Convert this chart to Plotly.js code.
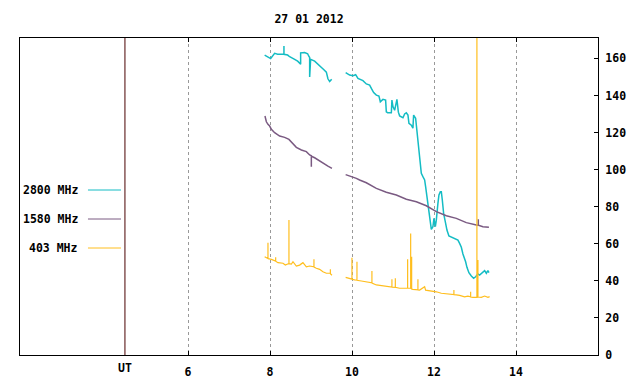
<!DOCTYPE html>
<html>
<head>
<meta charset="utf-8">
<script src="https://cdn.plot.ly/plotly-3.0.1.min.js"></script>
<style>
  html, body { margin: 0; padding: 0; background: #fff; }
  #chart { width: 640px; height: 384px; }
</style>
</head>
<body>
<div id="chart"></div>
<script>
// ---- Data (UT hours, flux values) ----
const titleText = "27 01 2012";
const seriesNames = ["2800 MHz", "1580 MHz", "403 MHz"];
const xTickVals = [6, 8, 10, 12, 14];
const xTickText = ["6", "8", "10", "12", "14"];
const utPosition = 4.46;
const utLabel = "UT";

const t2800 = [7.868,7.949,8.015,8.112,8.185,8.339,8.339,8.339,8.429,8.478,8.600,8.673,8.746,8.746,8.844,8.917,8.942,8.966,8.966,8.990,9.088,9.168,9.251,9.307,9.373,9.412,9.454,9.503,
  null,
  9.844,9.942,10.022,10.088,10.144,10.266,10.349,10.429,10.471,10.527,10.593,10.656,10.690,10.754,10.819,10.836,10.868,10.959,10.973,10.998,11.039,11.095,11.130,11.161,11.242,11.283,11.324,11.364,11.388,11.446,11.485,11.502,11.551,11.583,11.607,11.632,11.666,11.690,11.729,11.771,11.795,11.827,11.851,11.876,11.910,11.934,11.973,11.998,12.032,12.056,12.095,12.120,12.154,12.178,12.202,12.234,12.283,12.315,12.363,12.422,12.502,12.583,12.624,12.666,12.705,12.746,12.771,12.803,12.851,12.910,12.966,13.015,13.071,13.112,13.178,13.234,13.276,13.315,13.339];
const v2800 = [161.8,160.5,159.9,162.7,162.3,162.4,166.7,162.2,161.8,160.9,159.5,158.5,156.9,163,163.2,162.5,161.3,160.5,150,159.5,158.5,157,155.5,154,152.6,149,147.5,148.8,
  null,
  152.3,151,150.7,151.2,149.2,148,146.2,145.6,143.8,141.6,140.2,139.7,136.6,137.9,137.5,131.2,130.7,130.7,137.5,134,132,137.9,131,129,128,130,130.7,129.4,125,124,122.3,129.4,127.7,121.4,117.7,110.6,105.2,98,96.2,94.4,90.8,85.4,80,74.6,69.2,67.8,69.2,73.7,69.2,72.8,81.8,86.3,88.1,88.1,83.6,76.4,71,67.4,64.2,63.5,62.9,62,60.2,58.1,54.5,52.2,50.3,47.3,44.4,42.6,41.4,42.2,43.7,43.1,44.4,45.5,44.1,45.5,44.4];

const t1580 = [7.876,7.910,7.949,7.990,8.032,8.112,8.234,8.356,8.461,8.559,8.641,8.764,8.885,8.966,9.007,9.007,9.007,9.088,9.168,9.290,9.412,9.510,
  null,
  9.844,10.022,10.105,10.185,10.349,10.593,10.836,11.080,11.324,11.568,11.812,12.056,12.300,12.544,12.788,13.032,13.080,13.080,13.080,13.193,13.339];
const v1580 = [128.9,125.8,124.4,123.5,121.7,119.9,118.1,117.4,116.3,113.8,112,110.6,109.7,107.9,107.5,101.6,107.2,106.4,105.2,103.4,101.9,100.7,
  null,
  97.3,96.2,95.3,94.4,92.9,89.9,87.8,86.3,84,82.7,80.5,77.3,75.1,73.7,71.4,70.1,70,73.2,70,69.2,68.9];

const t403 = [7.868,7.949,7.949,7.949,8.032,8.112,8.137,8.137,8.137,8.193,8.315,8.373,8.437,8.461,8.461,8.461,8.520,8.559,8.641,8.722,8.802,8.885,8.966,9.046,9.071,9.071,9.071,9.129,9.210,9.290,9.373,9.454,9.471,9.471,9.471,9.510,
  null,
  9.844,9.942,9.998,9.998,9.998,10.064,10.120,10.120,10.120,10.227,10.349,10.429,10.485,10.485,10.485,10.593,10.754,10.917,10.973,10.973,10.973,11.056,11.056,11.056,11.161,11.324,11.356,11.356,11.356,11.430,11.430,11.430,11.454,11.454,11.454,11.485,11.607,11.607,11.607,11.649,11.771,11.795,11.934,12.056,12.178,12.300,12.485,12.485,12.485,12.544,12.624,12.746,12.827,12.893,12.893,12.893,12.949,13.046,13.046,13.046,13.071,13.071,13.154,13.234,13.315,13.356];
const v403 = [53,52,60.6,52,51.6,50.9,50.7,52.7,50.6,49.8,49.5,48.5,49.5,49.4,72.8,49.3,49.1,50.3,48,48.5,49.8,47.6,48,47.6,47.6,51.6,47.4,46.8,46.2,44.9,44.1,44.1,44,46.2,43.8,43,
  null,
  41.9,41,40.9,52.5,40.8,40.5,40.4,50.3,40.3,39.9,39.5,39,38.9,45.3,38.8,37.8,37.2,36.8,36.7,40.8,36.6,36.5,41.4,36.5,36,36,36,51.6,36,36,65.6,36,35.8,53,35.6,35.4,35.2,40.8,35.1,35,36.8,35,34.7,34.1,33.3,32.9,32.6,35,32.5,32.4,32.2,31.4,31.8,31.4,34.1,31.3,31.1,31.1,200,50.9,50.9,31.3,31.1,31.8,31.1,31.5];

const colors = ["#14bcc4", "#7a5a82", "#ffbe1e"];

// ---- Layout helpers ----
const font = { family: "DejaVu Sans Mono", size: 11.5, weight: "bold", color: "#000" };
const legendY = [0.5205, 0.429, 0.3375];

const traces = [
  { x: t2800, y: v2800, name: seriesNames[0], type: "scatter", mode: "lines", line: { color: colors[0], width: 1.5 } },
  { x: t1580, y: v1580, name: seriesNames[1], type: "scatter", mode: "lines", line: { color: colors[1], width: 1.5 } },
  { x: t403, y: v403, name: seriesNames[2], type: "scatter", mode: "lines", line: { color: colors[2], width: 1.2 } }
];

const annotations = [
  { text: utLabel, x: utPosition, xref: "x", y: 0, yref: "paper", yanchor: "top", xanchor: "center", yshift: -4, showarrow: false, font: font }
];
const shapes = [
  { type: "line", xref: "x", yref: "paper", x0: utPosition, x1: utPosition, y0: 0, y1: 1, line: { color: "#4a0000", width: 1 } }
];
seriesNames.forEach((n, i) => {
  annotations.push({ text: n, x: 0.1038, xref: "paper", y: legendY[i], yref: "paper", xanchor: "right", yanchor: "middle", showarrow: false, font: font });
  shapes.push({ type: "line", xref: "paper", yref: "paper", x0: 0.1176, x1: 0.1747, y0: legendY[i], y1: legendY[i], line: { color: colors[i], width: 1 } });
});

const layout = {
  width: 640, height: 384,
  margin: { l: 20, r: 42, t: 38, b: 29 },
  paper_bgcolor: "#fff", plot_bgcolor: "#fff",
  showlegend: false,
  font: font,
  title: { text: titleText, x: 0.5, xref: "paper", y: 1 - 19 / 384, yref: "container", yanchor: "middle", font: font },
  xaxis: {
    range: [1.9, 16], tickvals: xTickVals, ticktext: xTickText,
    ticks: "inside", ticklen: 4, tickcolor: "#000", tickwidth: 1,
    showline: true, linecolor: "#000", linewidth: 1, mirror: "ticks",
    showgrid: true, gridcolor: "#999", griddash: "dot", gridwidth: 1,
    zeroline: false, ticklabelstandoff: 6, tickfont: font
  },
  yaxis: {
    range: [0, 171], dtick: 20, side: "right",
    ticks: "inside", ticklen: 4, tickcolor: "#000", tickwidth: 1,
    showline: true, linecolor: "#000", linewidth: 1, mirror: true,
    showgrid: false, zeroline: false, ticklabelstandoff: 4, tickfont: font
  },
  annotations: annotations,
  shapes: shapes
};

Plotly.newPlot("chart", traces, layout, { staticPlot: true, displayModeBar: false });
</script>
</body>
</html>
